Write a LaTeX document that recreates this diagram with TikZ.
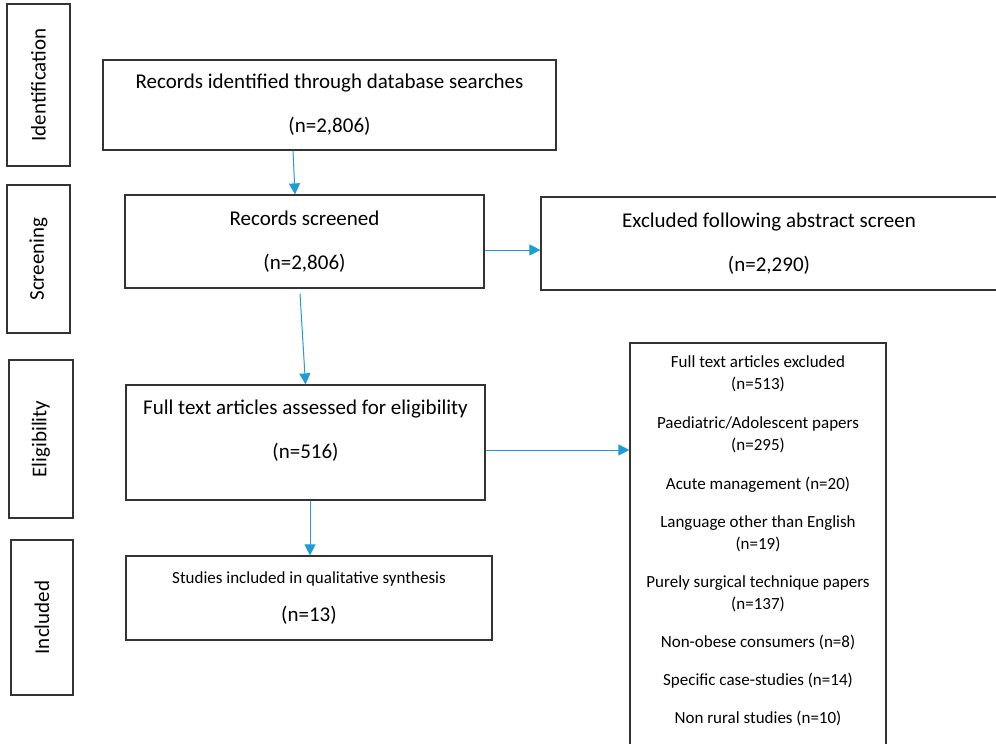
\documentclass[tikz,border=0pt]{standalone}
\usepackage{fontspec}
\setmainfont{Carlito}
\usetikzlibrary{arrows.meta}
\definecolor{arrowblue}{HTML}{1F9BD9}
\definecolor{boxline}{HTML}{333333}
\tikzset{
  stagebox/.style={draw=boxline, line width=1.2pt, rotate=90, inner sep=0pt, font=\fontsize{21}{25}\selectfont},
  flowbox/.style={draw=boxline, line width=1.2pt, inner sep=0pt, align=center, font=\fontsize{21}{44}\selectfont},
  flowarrow/.style={draw=arrowblue, line width=1pt, -{Triangle[length=11pt,width=11pt]}},
}
\begin{document}
\begin{tikzpicture}[x=1pt,y=-1pt]
\useasboundingbox (0,0) rectangle (996,744);
\clip (0,0) rectangle (996,744);
% stage labels
\node[stagebox, minimum width=162pt, minimum height=63pt] (ident) at (38.5,85) {Identification};
\node[stagebox, minimum width=148pt, minimum height=63pt] (screen) at (38.5,259) {Screening};
\node[stagebox, minimum width=158pt, minimum height=64pt] (elig) at (41,439) {Eligibility};
\node[stagebox, minimum width=155pt, minimum height=62pt] (incl) at (42,617.5) {Included};
% flow boxes
\node[flowbox, minimum width=453pt, minimum height=90pt] (b1) at (329.5,105) {Records identified through database searches\\(n=2,806)};
\node[flowbox, minimum width=359pt, minimum height=93pt] (b2) at (304.5,241.5) {Records screened\\(n=2,806)};
\node[flowbox, minimum width=456pt, minimum height=93pt] (b3) at (769,243.5) {Excluded following abstract screen\\(n=2,290)};
\node[flowbox, minimum width=359pt, minimum height=115pt] (b4) at (305.5,442.5) {Full text articles assessed for eligibility\\(n=516)\\[-18pt]\mbox{}};
\node[flowbox, minimum width=366pt, minimum height=84pt, font=\fontsize{21}{38}\selectfont] (b5) at (309,598) {{\fontsize{17}{38}\selectfont Studies included in qualitative synthesis}\\(n=13)};
\node[flowbox, minimum width=256pt, minimum height=417pt] (b6) at (758,551.5) {};
\node[anchor=north, align=center, inner sep=0pt, font=\fontsize{17}{22}\selectfont] (b6text) at ([yshift=-13pt]b6.north) {Full text articles excluded\\(n=513)\\[17pt]
Paediatric/Adolescent papers\\(n=295)\\[17pt]
Acute management (n=20)\\[16pt]
Language other than English\\(n=19)\\[16pt]
Purely surgical technique papers\\(n=137)\\[16pt]
Non-obese consumers (n=8)\\[16pt]
Specific case-studies (n=14)\\[16pt]
Non rural studies (n=10)};
% arrows
\draw[flowarrow] ([xshift=-36.5pt]b1.south) -- ([xshift=-9.5pt]b2.north);
\draw[flowarrow] ([yshift=-8.5pt]b2.east) -- ([yshift=-8.5pt]b2.east -| b3.west);
\draw[flowarrow] ([xshift=-4.5pt,yshift=-5pt]b2.south) -- (b4.north);
\draw[flowarrow] ([yshift=-7.5pt]b4.east) -- ([yshift=-7.5pt]b4.east -| b6.west);
\draw[flowarrow] ([xshift=4.5pt]b4.south) -- ([xshift=4.5pt]b4.south |- b5.north);
\end{tikzpicture}
\end{document}
